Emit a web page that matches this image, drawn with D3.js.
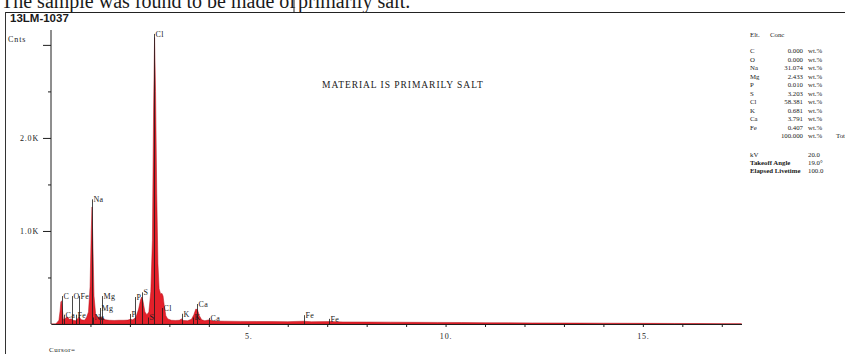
<!DOCTYPE html>
<html>
<head>
<meta charset="utf-8">
<script src="https://cdn.jsdelivr.net/npm/d3@7"></script>
<style>
  html, body { margin: 0; padding: 0; background: #fff; }
  svg { display: block; }
  text { font-family: "Liberation Serif", "DejaVu Serif", serif; fill: #1a1a1a; }
</style>
</head>
<body>
<div id="chart"></div>
<script>
// spectrum: energy (keV) and counts
const energy = [0.00, 0.12, 0.16, 0.20, 0.23, 0.25, 0.27, 0.29, 0.31, 0.34, 0.38, 0.42, 0.46, 0.52, 0.56, 0.62,
  0.68, 0.72, 0.77, 0.85, 0.90, 0.95, 0.99, 1.02, 1.04, 1.06, 1.09, 1.13, 1.18, 1.25, 1.31, 1.38, 1.48,
  1.60, 1.72, 1.85, 1.95, 2.01, 2.07, 2.15, 2.22, 2.27, 2.30, 2.33, 2.38, 2.43, 2.48, 2.53, 2.57, 2.60,
  2.625, 2.65, 2.68, 2.71, 2.74, 2.78, 2.81, 2.84, 2.87, 2.91, 2.96, 3.05, 3.15, 3.25, 3.31, 3.36, 3.46,
  3.56, 3.62, 3.67, 3.71, 3.76, 3.82, 3.90, 4.01, 4.10, 4.40, 4.80, 5.20, 5.60, 6.00, 6.40, 6.60, 7.06,
  7.40, 8.00, 8.60, 9.20, 9.80, 10.4, 11.0, 11.6, 12.2, 12.8, 13.4, 14.0, 14.6, 15.2, 15.8, 16.4, 17.0, 17.5];
const counts = [0, 0, 20, 40, 140, 240, 248, 150, 60, 45, 70, 75, 50, 55, 40, 35,
  60, 70, 45, 40, 70, 130, 400, 1000, 1258, 900, 300, 110, 70, 75, 65, 45, 40,
  38, 40, 40, 42, 50, 45, 70, 160, 260, 290, 250, 130, 100, 130, 350, 900, 2300,
  3080, 2500, 1400, 650, 380, 320, 330, 300, 200, 90, 55, 40, 38, 40, 55, 38, 35,
  50, 100, 160, 155, 90, 45, 35, 45, 32, 30, 28, 27, 26, 25, 30, 24, 26,
  22, 21, 20, 18, 17, 16, 14, 13, 12, 11, 10, 9, 8, 7, 6, 5, 4, 3];

// element markers: label, line energy (keV), marker top (counts)
const markerLabels = ["C", "Ca", "O", "Fe", "Fe", "Na", "Na", "Mg", "Mg", "P", "P", "S", "S", "Cl", "Cl",
  "K", "K", "Ca", "Ca", "Fe", "Fe"];
const markerKeV = [0.277, 0.341, 0.525, 0.63, 0.705, 1.041, 1.07, 1.254, 1.302, 2.013, 2.139, 2.307, 2.464,
  2.622, 2.815, 3.313, 3.59, 3.691, 4.012, 6.40, 7.058];
const markerTop = [300, 100, 300, 100, 300, 1340, 70, 172, 300, 108, 290, 340, 70,
  3118, 172, 110, 70, 215, 65, 95, 55];

// concentration table
const elements = ["C", "O", "Na", "Mg", "P", "S", "Cl", "K", "Ca", "Fe"];
const concentrations = ["0.000", "0.000", "31.074", "2.433", "0.010", "3.203", "58.381", "0.681", "3.791", "0.407"];
const concTotal = "100.000";
const settingNames = ["kV", "Takeoff Angle", "Elapsed Livetime"];
const settingValues = ["20.0", "19.0\u00b0", "100.0"];

const yTicksMajor = [1000, 2000, 3000];
const yTicksMinor = [500, 1500, 2500];
const yTickLabels = { 1000: "1.0K", 2000: "2.0K", 3000: "" };
const xTicks = d3.range(1, 18);
const xTickLabels = { 5: "5.", 10: "10.", 15: "15." };

const width = 845, height = 354;
const svg = d3.select("#chart").append("svg").attr("width", width).attr("height", height);

// page header and frame
svg.append("text").attr("x", 1).attr("y", 7.5).style("font-size", "20px").text("The sample was found to be made of");
svg.append("text").attr("x", 298).attr("y", 7.5).style("font-size", "20px").text("primarily salt.");
svg.append("line").attr("x1", 294).attr("x2", 294).attr("y1", 0).attr("y2", 12).attr("stroke", "#222");
svg.append("line").attr("x1", 5).attr("x2", width).attr("y1", 12.5).attr("y2", 12.5).attr("stroke", "#222");
svg.append("line").attr("x1", 5.5).attr("x2", 5.5).attr("y1", 12).attr("y2", height).attr("stroke", "#333");
svg.append("text").attr("x", 10).attr("y", 21.5)
  .style("font-family", "'Liberation Sans', Arial, sans-serif").style("font-weight", "bold")
  .style("font-size", "11.5px").text("13LM-1037");

const x = d3.scaleLinear().domain([0, 17.5]).range([51, 741.5]);
const y = d3.scaleLinear().domain([0, 3160]).range([324, 30]);

const spectrum = energy.map((e, i) => ({ e: e, c: counts[i] }));

// red spectrum
svg.append("path")
  .datum(spectrum)
  .attr("d", d3.area().x(d => x(d.e)).y0(y(0)).y1(d => y(d.c)))
  .attr("fill", "#e4202a")
  .attr("stroke", "#b3121a")
  .attr("stroke-width", 0.5);

// axes
const yMajor = d3.axisLeft(y).tickValues(yTicksMajor).tickSize(8).tickPadding(4)
  .tickSizeOuter(0).tickFormat(d => yTickLabels[d]);
const yMinor = d3.axisLeft(y).tickValues(yTicksMinor).tickSize(3).tickSizeOuter(0).tickFormat("");
const gy = svg.append("g").attr("transform", "translate(51,0)").call(yMajor);
svg.append("g").attr("transform", "translate(51,0)").call(yMinor).select(".domain").remove();
gy.select(".domain").attr("d", `M0,${y(3160)}V${y(0)}`);

const xAxis = d3.axisBottom(x).tickValues(xTicks).tickSize(3).tickPadding(6)
  .tickSizeOuter(0).tickFormat(d => xTickLabels[d] || "");
svg.append("g").attr("transform", `translate(0,${y(0)})`).call(xAxis);

svg.selectAll(".domain, .tick line").attr("stroke", "#1e1e1e");
svg.selectAll(".tick text").style("font-family", "'Liberation Serif', serif").style("font-size", "8px")
  .style("letter-spacing", "0.8px").attr("fill", "#1a1a1a");

svg.append("text").attr("x", 8).attr("y", 42).style("font-size", "8px").style("letter-spacing", "0.9px").text("Cnts");

// element marker lines and labels
const markers = svg.append("g");
markerLabels.forEach((lab, i) => {
  const mx = Math.round(x(markerKeV[i])) + 0.5;
  const my = y(markerTop[i]);
  markers.append("line").attr("x1", mx).attr("x2", mx).attr("y1", y(0)).attr("y2", my)
    .attr("stroke", "#1a1a1a").attr("stroke-width", 0.8);
  markers.append("text").attr("x", mx + 1).attr("y", my + 3)
    .style("font-size", "8px").style("letter-spacing", "0.3px").text(lab);
});

svg.append("text").attr("x", 322).attr("y", 88).style("font-size", "9.5px").style("letter-spacing", "0.95px")
  .text("MATERIAL IS PRIMARILY SALT");

svg.append("text").attr("x", 49).attr("y", 352).style("font-size", "7px").style("letter-spacing", "0.5px").text("Cursor=");

// concentration panel
const panel = svg.append("g").style("font-size", "6.8px");
panel.append("text").attr("x", 750).attr("y", 37).text("Elt.");
panel.append("text").attr("x", 770).attr("y", 37).text("Conc");
elements.forEach((el, i) => {
  const ry = 53 + i * 8.5;
  panel.append("text").attr("x", 750).attr("y", ry).text(el);
  panel.append("text").attr("x", 803).attr("y", ry).attr("text-anchor", "end").text(concentrations[i]);
  panel.append("text").attr("x", 808).attr("y", ry).text("wt.%");
});
const totalY = 53 + elements.length * 8.5;
panel.append("text").attr("x", 803).attr("y", totalY).attr("text-anchor", "end").text(concTotal);
panel.append("text").attr("x", 808).attr("y", totalY).text("wt.%");
panel.append("text").attr("x", 836).attr("y", totalY).text("Total");
settingNames.forEach((s, i) => {
  const ry = 157 + i * 8;
  panel.append("text").attr("x", 750).attr("y", ry).style("font-weight", i > 0 ? "bold" : "normal").text(s);
  panel.append("text").attr("x", 808).attr("y", ry).text(settingValues[i]);
});
</script>
</body>
</html>
